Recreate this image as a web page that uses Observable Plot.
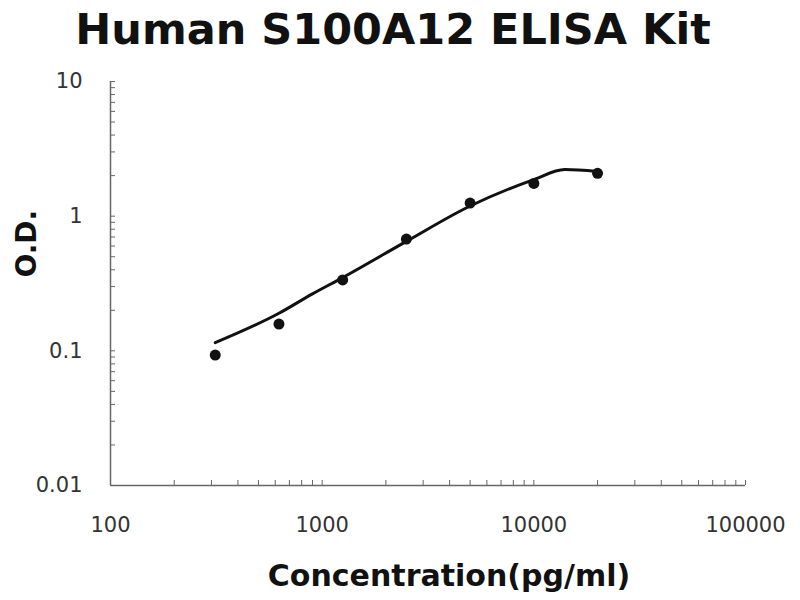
<!DOCTYPE html>
<html lang="en">
<head>
<meta charset="utf-8">
<title>Human S100A12 ELISA Kit</title>
<script src="https://cdn.jsdelivr.net/npm/d3@7"></script>
<script src="https://cdn.jsdelivr.net/npm/@observablehq/plot@0.6"></script>
<style>
  body {
    margin: 0;
    width: 800px;
    background: #fff;
  }

  #title {
    font-family: 'DejaVu Sans', sans-serif;
    font-weight: bold;
    font-size: 43px;
    color: #111;
    width: 786px;
    height: 58px;
    line-height: 58px;
    text-align: center;
    margin: 0;
  }
</style>
</head>
<body>
  <div id="title">Human S100A12 ELISA Kit</div>
  <div id="graphic"></div>

<script>
  // standard curve readings
  const concentration = [312.5, 625, 1250, 2500, 5000, 10000, 20000];
  const od = [0.093, 0.158, 0.336, 0.676, 1.25, 1.75, 2.08];

  // fitted trend line
  const fitConcentration = [312.5, 625, 900, 1250, 2500, 5000, 10000, 14000, 20000];
  const fitOd = [0.115, 0.19, 0.265, 0.35, 0.65, 1.19, 1.87, 2.22, 2.15];

  const xTickLabels = [100, 1000, 10000, 100000];
  const yTickLabels = [0.01, 0.1, 1, 10];

  const points = concentration.map((c, i) => ({x: c, y: od[i]}));
  const fit = fitConcentration.map((c, i) => ({x: c, y: fitOd[i]}));

  // minor ticks at 1..9 x each decade
  const logTicks = decades => decades.slice(0, -1).flatMap(d => d3.range(1, 10).map(k => k * d)).concat(decades.slice(-1));
  const xTicks = logTicks(xTickLabels);
  const yTicks = logTicks(yTickLabels);

  const font = "'DejaVu Sans', sans-serif";

  const chart = Plot.plot({
    width: 800,
    height: 542,
    marginTop: 23,
    marginBottom: 115,
    marginLeft: 110,
    marginRight: 55,
    style: {fontFamily: font, background: "#fff"},
    x: {type: "log", domain: [100, 100000], axis: null},
    y: {type: "log", domain: [0.01, 10], axis: null},
    marks: [
      Plot.axisX(xTicks, {anchor: "bottom", tickSize: -5, tickFormat: () => "", stroke: "#666", label: null}),
      Plot.axisY(yTicks, {anchor: "left", tickSize: -5, tickFormat: () => "", stroke: "#666", label: null}),
      Plot.axisX(xTickLabels, {anchor: "bottom", tickSize: 0, tickPadding: 32, tickFormat: d => String(d), fontSize: 21, fill: "#333", label: null}),
      Plot.axisY(yTickLabels, {anchor: "left", tickSize: 0, tickPadding: 28, tickFormat: d => String(d), fontSize: 21, fill: "#333", label: null}),
      Plot.ruleX([100], {stroke: "#666", strokeWidth: 1.5}),
      Plot.ruleY([0.01], {stroke: "#666", strokeWidth: 1.5}),
      Plot.line(fit, {x: "x", y: "y", curve: "monotone-x", stroke: "#111", strokeWidth: 3}),
      Plot.dot(points, {x: "x", y: "y", r: 5.5, fill: "#111"}),
      Plot.text(["O.D."], {frameAnchor: "left", rotate: -90, dx: -83, dy: -6, fontSize: 28, fontWeight: "bold", fill: "#111"}),
      Plot.text(["Concentration(pg/ml)"], {frameAnchor: "bottom", dx: 21, dy: 100, fontSize: 30, fontWeight: "bold", fill: "#111"})
    ]
  });

  document.getElementById("graphic").appendChild(chart);
</script>
</body>
</html>
